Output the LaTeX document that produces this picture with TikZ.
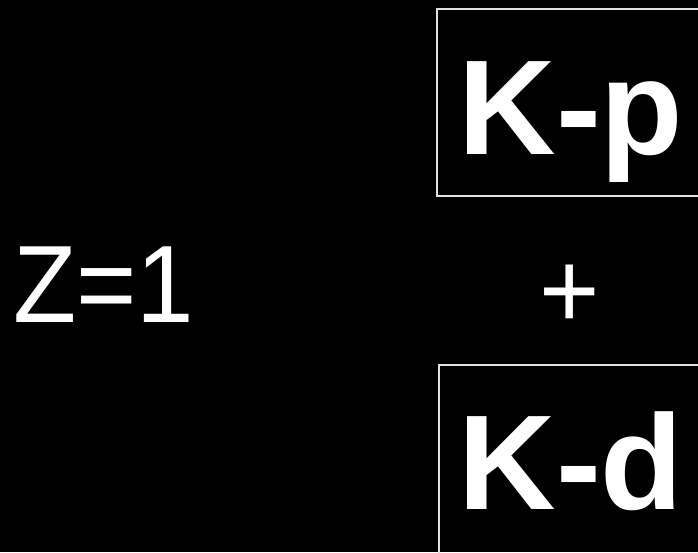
\documentclass[tikz,border=0pt]{standalone}
\usepackage{fontspec}
\setmainfont{Liberation Sans}
\newfontfamily\narrowfont[FakeStretch=0.94]{Liberation Sans}
\usetikzlibrary{positioning}
\tikzset{
  big label/.style={text=white, inner sep=0pt, font=\fontsize{135}{135}\selectfont\bfseries},
  thin label/.style={text=white, inner sep=0pt, font=\narrowfont\fontsize{110}{110}\selectfont},
  frame box/.style={draw=white!88!black, line width=2.5pt, inner sep=0pt}
}
\begin{document}
\begin{tikzpicture}[x=1pt, y=-1pt]
  \clip (0,0) rectangle (698,552);
  \fill[black] (0,0) rectangle (698,552);
  % boxes, cut by the right and bottom edge
  \node[frame box, minimum width=273pt, minimum height=187pt] (boxp) at (573.5,102.5) {};
  \node[frame box, minimum width=271pt, minimum height=195pt] (boxd) at (574.5,462.5) {};
  % texts
  \node[big label, anchor=base] (kp) at (571,154) {K-p};
  \node[big label, anchor=base] (kd) at (571,509) {K-d};
  \node[thin label] (plus) at (570,297) {+};
  \node[thin label, anchor=base west] (charge) at (13,322) {Z=1};
\end{tikzpicture}
\end{document}
